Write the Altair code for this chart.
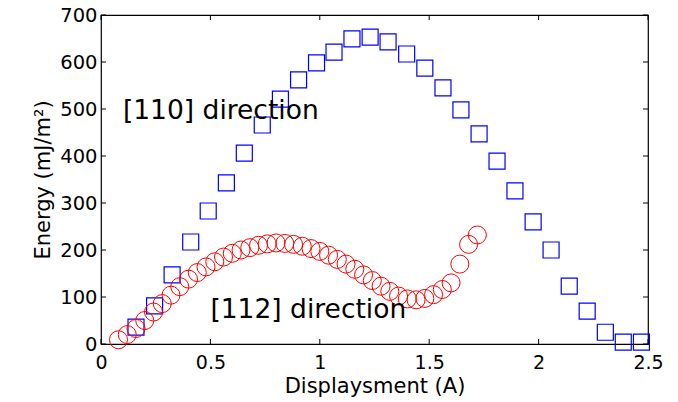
import altair as alt
import pandas as pd

# [110] direction (blue squares)
sq_x = [0.16, 0.245, 0.325, 0.41, 0.49, 0.573, 0.655, 0.737, 0.82, 0.903, 0.985,
        1.065, 1.147, 1.23, 1.312, 1.397, 1.48, 1.563, 1.645, 1.728, 1.81, 1.892,
        1.975, 2.057, 2.14, 2.222, 2.305, 2.387, 2.47]
sq_y = [36, 81, 147, 217, 283, 343, 406, 466, 521, 562, 598,
        621, 649, 653, 643, 617, 587, 545, 498, 447, 389, 326,
        260, 200, 123, 70, 25, 4, 4]

# [112] direction (red circles)
ci_x = [0.08, 0.12, 0.16, 0.20, 0.24, 0.28, 0.32, 0.36, 0.40, 0.44, 0.48, 0.52,
        0.56, 0.60, 0.64, 0.68, 0.72, 0.76, 0.80, 0.84, 0.88, 0.92, 0.96, 1.00,
        1.04, 1.08, 1.12, 1.16, 1.20, 1.24, 1.28, 1.32, 1.36, 1.40, 1.44, 1.48,
        1.52, 1.56, 1.60, 1.64, 1.68, 1.72]
ci_y = [9, 20, 33, 50, 68, 86, 104, 122, 138, 152, 164, 175,
        185, 193, 200, 205, 210, 213, 215, 214, 212, 208, 203, 197,
        189, 180, 170, 159, 147, 135, 123, 112, 102, 96, 94, 97,
        105, 116, 130, 170, 212, 232]

ann_text = ["[110] direction", "[112] direction"]
ann_x = [0.1, 0.5]
ann_y = [479, 55]

x_ticks = [0, 0.5, 1, 1.5, 2, 2.5]
y_ticks = [0, 100, 200, 300, 400, 500, 600, 700]

W, H = 547, 329
FONT = "DejaVu Sans"

sq = pd.DataFrame({"x": sq_x, "y": sq_y})
ci = pd.DataFrame({"x": ci_x, "y": ci_y})
ann = pd.DataFrame({"t": ann_text, "x": ann_x, "y": ann_y})
xt = pd.DataFrame({"v": x_ticks})
yt = pd.DataFrame({"v": y_ticks})

xs = alt.Scale(domain=[0, 2.5], nice=False, zero=False)
ys = alt.Scale(domain=[0, 700], nice=False)

xax = alt.Axis(values=x_ticks, title="Displaysment (A)", labelExpr="datum.value", ticks=False,
               domain=False, grid=False, labelPadding=9, titlePadding=3, labelFlush=False)
yax = alt.Axis(values=y_ticks, title="Energy (mJ/m²)", ticks=False, domain=False, grid=False,
               labelPadding=4, titlePadding=6, labelFontSize=19.5)

squares = alt.Chart(sq).mark_point(shape="square", filled=False, color="#0000ff",
                                   size=256, strokeWidth=1.2, opacity=1).encode(
    x=alt.X("x:Q", scale=xs, axis=xax),
    y=alt.Y("y:Q", scale=ys, axis=yax),
)
circles = alt.Chart(ci).mark_point(shape="circle", filled=False, color="#ff0000",
                                   size=324, strokeWidth=1, opacity=1).encode(
    x=alt.X("x:Q", scale=xs),
    y=alt.Y("y:Q", scale=ys),
)
texts = alt.Chart(ann).mark_text(align="left", baseline="alphabetic", font=FONT,
                                 fontSize=26.5, color="black").encode(
    x=alt.X("x:Q", scale=xs), y=alt.Y("y:Q", scale=ys), text="t:N")

tb = alt.Chart(xt).mark_rule(color="black", strokeWidth=1).encode(
    x=alt.X("v:Q", scale=xs), y=alt.value(H), y2=alt.value(H - 5))
tt = alt.Chart(xt).mark_rule(color="black", strokeWidth=1).encode(
    x=alt.X("v:Q", scale=xs), y=alt.value(0), y2=alt.value(5))
tl = alt.Chart(yt).mark_rule(color="black", strokeWidth=1).encode(
    y=alt.Y("v:Q", scale=ys), x=alt.value(0), x2=alt.value(5))
tr = alt.Chart(yt).mark_rule(color="black", strokeWidth=1).encode(
    y=alt.Y("v:Q", scale=ys), x=alt.value(W), x2=alt.value(W - 5))

chart = alt.layer(tb, tt, tl, tr, squares, circles, texts).properties(
    width=W, height=H,
    autosize=alt.AutoSizeParams(type="none"),
    padding={"left": 101, "top": 15, "right": 30, "bottom": 58},
    background="white",
).configure_view(stroke="black", strokeWidth=1.2).configure_axis(
    labelFont=FONT, labelFontSize=19, labelColor="black",
    titleFont=FONT, titleFontSize=21, titleColor="black", titleFontWeight="normal",
)

chart.save("out.html", embed_options={"renderer": "svg", "actions": False})
